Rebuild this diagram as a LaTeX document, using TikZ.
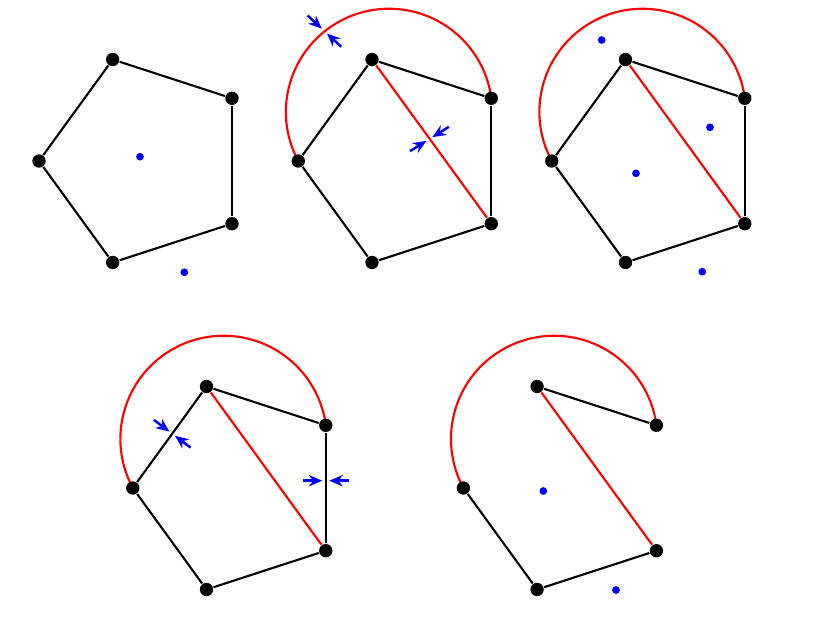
\documentclass[tikz,border=0pt]{standalone}
\usetikzlibrary{arrows.meta,backgrounds}
\tikzset{
  vertex/.style={circle, fill=black, inner sep=0pt, minimum size=3.8pt},
  spot/.style={circle, fill=blue, inner sep=0pt, minimum size=2.2pt},
  side/.style={draw=black, line width=0.6pt},
  cut/.style={draw=red, line width=0.6pt},
  squeeze/.style={draw=blue, line width=0.7pt, -{Stealth[length=3.8pt,width=3.2pt]}},
}
\begin{document}
\begin{tikzpicture}
\useasboundingbox (0,0) rectangle (8.30,-6.23);
% first pentagon
\node[vertex] at (1.127,-0.595) (a1) {};
\node[vertex] at (2.320,-0.983) (a2) {};
\node[vertex] at (2.320,-2.237) (a3) {};
\node[vertex] at (1.127,-2.625) (a4) {};
\node[vertex] at (0.390,-1.610) (a5) {};
\node[spot]   at (1.400,-1.567) (a6) {};
\node[spot]   at (1.843,-2.723) (a7) {};
% second pentagon
\node[vertex] at (3.720,-0.595) (b1) {};
\node[vertex] at (4.913,-0.983) (b2) {};
\node[vertex] at (4.913,-2.237) (b3) {};
\node[vertex] at (3.720,-2.625) (b4) {};
\node[vertex] at (2.983,-1.610) (b5) {};
% third pentagon
\node[vertex] at (6.255,-0.595) (c1) {};
\node[vertex] at (7.448,-0.983) (c2) {};
\node[vertex] at (7.448,-2.237) (c3) {};
\node[vertex] at (6.255,-2.625) (c4) {};
\node[vertex] at (5.518,-1.610) (c5) {};
\node[spot]   at (6.017,-0.400) (c6) {};
\node[spot]   at (7.100,-1.273) (c7) {};
\node[spot]   at (6.360,-1.733) (c8) {};
\node[spot]   at (7.023,-2.717) (c9) {};
% fourth pentagon
\node[vertex] at (2.065,-3.865) (d1) {};
\node[vertex] at (3.258,-4.253) (d2) {};
\node[vertex] at (3.258,-5.507) (d3) {};
\node[vertex] at (2.065,-5.895) (d4) {};
\node[vertex] at (1.328,-4.880) (d5) {};
% fifth pentagon
\node[vertex] at (5.371,-3.865) (e1) {};
\node[vertex] at (6.564,-4.253) (e2) {};
\node[vertex] at (6.564,-5.507) (e3) {};
\node[vertex] at (5.371,-5.895) (e4) {};
\node[vertex] at (4.634,-4.880) (e5) {};
\node[spot]   at (5.433,-4.910) (e6) {};
\node[spot]   at (6.160,-5.900) (e7) {};
% where the arrows pinch
\coordinate (p1) at (3.244,-0.311);
\coordinate (p2) at (4.294,-1.390);
\coordinate (p3) at (1.722,-4.337);
\coordinate (p4) at (3.258,-4.807);
\begin{scope}[on background layer]
\path[side] (a1) edge (a2) (a2) edge (a3) (a3) edge (a4) (a4) edge (a5) (a5) edge (a1);
\path[side] (b1) edge (b2) (b2) edge (b3) (b3) edge (b4) (b4) edge (b5) (b5) edge (b1);
\path[side] (c1) edge (c2) (c2) edge (c3) (c3) edge (c4) (c4) edge (c5) (c5) edge (c1);
\path[side] (d1) edge (d2) (d2) edge (d3) (d3) edge (d4) (d4) edge (d5) (d5) edge (d1);
\path[side] (e1) edge (e2) (e3) edge (e4) (e4) edge (e5);
\path[cut] (b1) edge (b3) (c1) edge (c3) (d1) edge (d3) (e1) edge (e3);
\draw[cut] (b5.center) arc[start angle=208.4, end angle=7.6, radius=1.032];
\draw[cut] (c5.center) arc[start angle=208.4, end angle=7.6, radius=1.032];
\draw[cut] (d5.center) arc[start angle=208.4, end angle=7.6, radius=1.032];
\draw[cut] (e5.center) arc[start angle=208.4, end angle=7.6, radius=1.032];
\end{scope}
\foreach \p/\a in {p1/-43, p2/32, p3/-37, p4/0} {
  \draw[squeeze, shift={(\p)}, rotate=\a] (-0.23,0) -- (-0.035,0);
  \draw[squeeze, shift={(\p)}, rotate=\a] (0.23,0) -- (0.035,0);
}
\end{tikzpicture}
\end{document}
